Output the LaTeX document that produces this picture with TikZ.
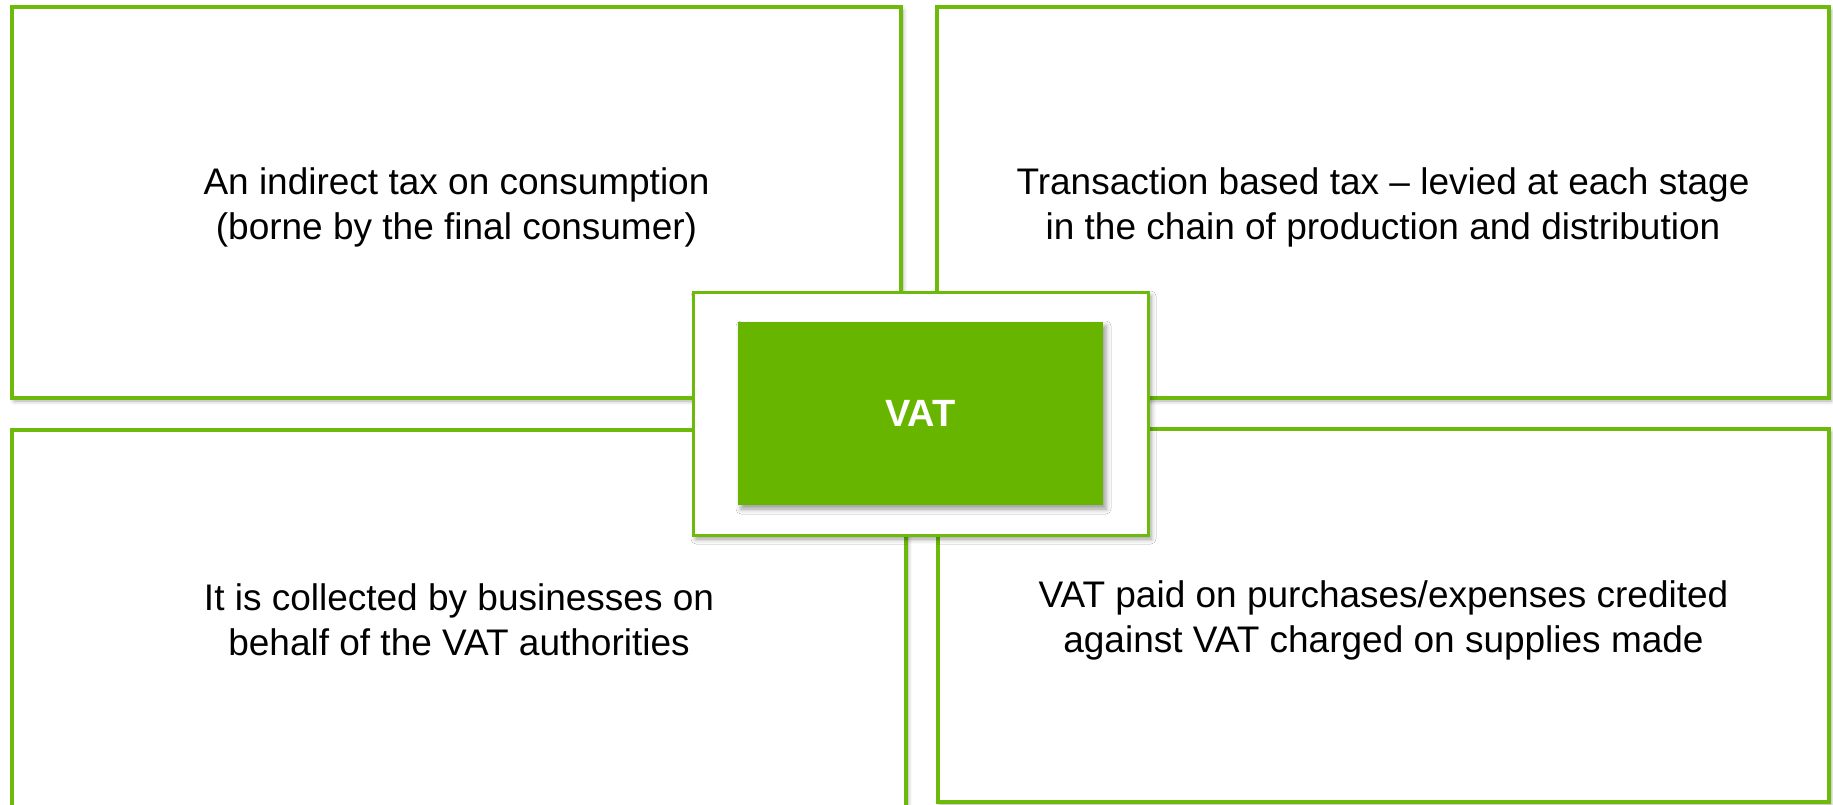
\documentclass[tikz,border=0pt]{standalone}
\usepackage{fontspec}
\setmainfont{Liberation Sans}
\usetikzlibrary{shadows.blur}
\definecolor{vatgreen}{RGB}{104,181,0}
\definecolor{linegreen}{RGB}{108,186,10}
\begin{document}
\begin{tikzpicture}[x=1pt,y=-1pt,
  panel/.style={draw=linegreen, line width=4pt, fill=white, rectangle, inner sep=0pt,
    blur shadow={shadow xshift=2pt, shadow yshift=-3pt, shadow blur radius=4pt, shadow opacity=35}},
  paneltext/.style={align=center, font=\fontsize{37}{45}\selectfont, text=black, inner sep=0pt},
  frame/.style={draw=linegreen, line width=3pt, fill=white, rectangle, inner sep=0pt,
    blur shadow={shadow xshift=3pt, shadow yshift=-4pt, shadow blur radius=5pt, shadow opacity=40}},
  core/.style={fill=vatgreen, rectangle, inner sep=0pt, text=white,
    font=\fontsize{38}{44}\selectfont\bfseries,
    blur shadow={shadow xshift=3pt, shadow yshift=-4pt, shadow blur radius=5pt, shadow opacity=40}}]
\useasboundingbox (0,0) rectangle (1833,804);
% four panels
\node[panel, minimum width=889pt, minimum height=391pt] (tl) at (456.5,202.5) {};
\node[panel, minimum width=892pt, minimum height=391pt] (tr) at (1383,202.5) {};
\node[panel, minimum width=894pt, minimum height=400pt] (bl) at (459,630) {};
\node[panel, minimum width=891pt, minimum height=373pt] (br) at (1383.5,615.5) {};
% panel texts
\node[paneltext] (tltext) at (456.5,207.5) {An indirect tax on consumption\\(borne by the final consumer)};
\node[paneltext] (trtext) at (1383,207.5) {Transaction based tax -- levied at each stage\\in the chain of production and distribution};
\node[paneltext] (bltext) at (459,620) {It is collected by businesses on\\behalf of the VAT authorities};
\node[paneltext] (brtext) at (1383.5,620) {VAT paid on purchases/expenses credited\\against VAT charged on supplies made};
% centre
\node[frame, minimum width=455pt, minimum height=243pt] (frm) at (920.5,413.5) {};
\node[core, minimum width=365pt, minimum height=183pt] (vat) at (frm.center) {VAT};
\end{tikzpicture}
\end{document}
